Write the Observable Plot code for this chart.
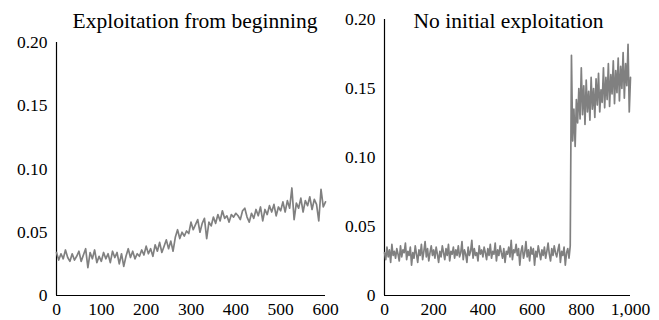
<!DOCTYPE html>
<html>
<head>
<meta charset="utf-8">
<script src="https://cdn.jsdelivr.net/npm/d3@7"></script>
<script src="https://cdn.jsdelivr.net/npm/@observablehq/plot@0.6"></script>
<style>
  html, body { margin: 0; padding: 0; background: #fff; }
  #wrap { display: flex; width: 659px; height: 320px; }
  #wrap svg { overflow: visible; display: block; }
</style>
</head>
<body>
<div id="wrap"></div>
<script>
// ---- Data ----
const leftTitle = "Exploitation from beginning";
const rightTitle = "No initial exploitation";

const leftStep = 5; // sample spacing along x, left panel
const leftValues = [
  0.034,0.028,0.033,0.029,0.036,0.030,0.027,0.033,0.028,0.031,
  0.035,0.027,0.032,0.037,0.022,0.034,0.029,0.036,0.026,0.031,
  0.027,0.034,0.029,0.033,0.026,0.035,0.030,0.034,0.025,0.033,
  0.023,0.031,0.037,0.030,0.035,0.029,0.033,0.031,0.036,0.032,
  0.039,0.033,0.037,0.031,0.040,0.035,0.042,0.034,0.039,0.044,
  0.037,0.043,0.035,0.046,0.052,0.045,0.050,0.047,0.051,0.049,
  0.058,0.052,0.056,0.060,0.050,0.057,0.061,0.045,0.058,0.055,
  0.062,0.057,0.064,0.059,0.067,0.061,0.063,0.058,0.064,0.062,
  0.065,0.063,0.060,0.067,0.069,0.062,0.058,0.065,0.061,0.068,
  0.063,0.070,0.059,0.068,0.064,0.071,0.066,0.072,0.063,0.070,
  0.067,0.074,0.066,0.075,0.069,0.085,0.060,0.073,0.069,0.077,
  0.066,0.075,0.071,0.078,0.068,0.076,0.072,0.059,0.084,0.070,
  0.074
];

const rightStep = 5; // sample spacing along x, right panel
const rightValues = [
  0.031,0.026,0.035,0.028,0.033,0.024,0.037,0.029,0.032,0.027,
  0.034,0.030,0.025,0.036,0.028,0.033,0.031,0.038,0.026,0.032,
  0.029,0.035,0.022,0.031,0.027,0.036,0.030,0.024,0.033,0.029,
  0.037,0.026,0.032,0.039,0.028,0.034,0.025,0.031,0.036,0.029,
  0.033,0.027,0.035,0.030,0.024,0.032,0.028,0.036,0.031,0.026,
  0.034,0.029,0.037,0.025,0.032,0.030,0.035,0.027,0.033,0.029,
  0.036,0.028,0.031,0.039,0.026,0.033,0.030,0.024,0.035,0.029,
  0.032,0.040,0.027,0.034,0.029,0.031,0.025,0.036,0.030,0.033,
  0.028,0.035,0.031,0.026,0.034,0.029,0.037,0.027,0.032,0.030,
  0.038,0.025,0.033,0.029,0.036,0.031,0.027,0.034,0.024,0.032,
  0.030,0.035,0.028,0.040,0.026,0.033,0.031,0.037,0.029,0.034,
  0.022,0.032,0.036,0.027,0.031,0.039,0.028,0.033,0.025,0.035,
  0.030,0.034,0.022,0.032,0.028,0.036,0.031,0.026,0.033,0.029,
  0.035,0.027,0.032,0.038,0.030,0.025,0.034,0.029,0.036,0.031,
  0.028,0.033,0.037,0.024,0.032,0.029,0.035,0.022,0.031,0.034,
  0.027,
  0.036,0.174,0.112,0.135,0.108,0.142,0.125,0.150,0.128,0.165,
  0.131,0.152,0.124,0.156,0.133,0.148,0.127,0.158,0.135,0.150,
  0.129,0.157,0.138,0.161,0.133,0.149,0.140,0.165,0.136,0.158,
  0.142,0.168,0.137,0.160,0.146,0.170,0.139,0.163,0.147,0.172,
  0.141,0.166,0.150,0.176,0.143,0.168,0.152,0.182,0.133,0.158
];

const yTicks = [0, 0.05, 0.10, 0.15, 0.20];
const leftXTicks = [0, 100, 200, 300, 400, 500, 600];
const rightXTicks = [0, 200, 400, 600, 800, 1000];

// ---- Build tables ----
const leftData = leftValues.map((v, i) => ({x: i * leftStep, y: v}));
const rightData = rightValues.map((v, i) => ({x: i * rightStep, y: v}));

const FONT = "'Liberation Serif', 'Times New Roman', Times, serif";
const LINE = "#808080";
const yFmt = d => d === 0 ? "0" : d.toFixed(2);

function panel({data, width, marginLeft, marginRight, marginTop, xDomain, xTicks, xFmt, title, titleDx, titleDy}) {
  return Plot.plot({
    width, height: 320,
    marginLeft, marginRight, marginTop, marginBottom: 25,
    style: {fontFamily: FONT, fontSize: "17.5px", color: "#000", background: "transparent", overflow: "visible"},
    x: {domain: xDomain, ticks: xTicks, tickFormat: xFmt, tickSize: 0, tickPadding: 7, label: null},
    y: {domain: [0, 0.2], ticks: yTicks, tickFormat: yFmt, tickSize: 0, tickPadding: 9, label: null},
    marks: [
      Plot.ruleX([0], {stroke: "#000", strokeWidth: 1.2}),
      Plot.ruleY([0], {stroke: "#000", strokeWidth: 1.2}),
      Plot.lineY(data, {x: "x", y: "y", stroke: LINE, strokeWidth: 1.7}),
      Plot.text([title], {frameAnchor: "top", dx: titleDx, dy: titleDy, fontSize: 21.5, fill: "#000", lineAnchor: "middle"})
    ]
  });
}

const wrap = document.getElementById("wrap");
wrap.append(panel({
  data: leftData, width: 330, marginLeft: 56, marginRight: 5, marginTop: 42,
  xDomain: [0, 600], xTicks: leftXTicks, xFmt: d3.format("d"),
  title: leftTitle, titleDx: 4, titleDy: -21
}));
wrap.append(panel({
  data: rightData, width: 329, marginLeft: 54, marginRight: 29, marginTop: 19,
  xDomain: [0, 1000], xTicks: rightXTicks, xFmt: d3.format(","),
  title: rightTitle, titleDx: 1, titleDy: 2
}));
</script>
</body>
</html>
